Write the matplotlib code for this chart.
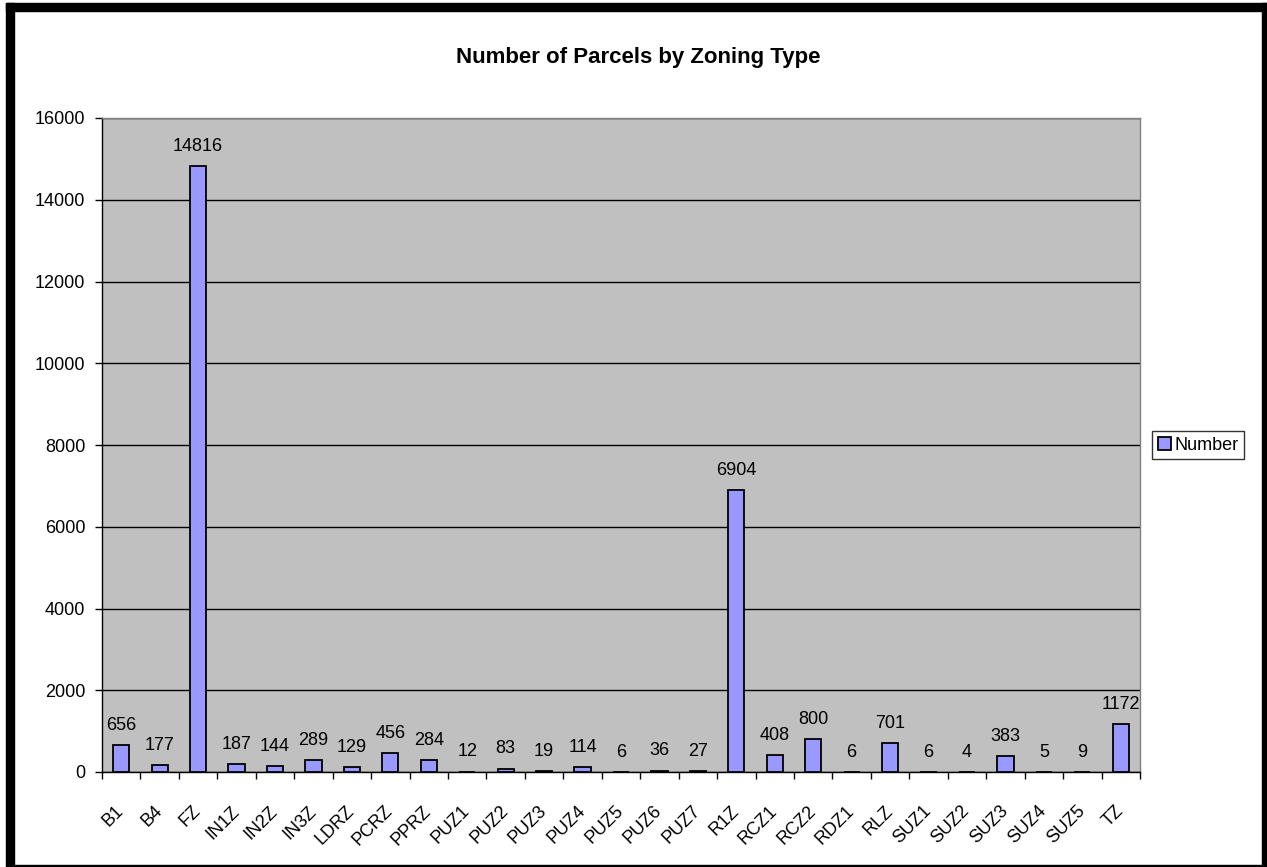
import matplotlib
matplotlib.use('Agg')
import matplotlib.pyplot as plt
import matplotlib.transforms as mtransforms
import numpy as np
from matplotlib.patches import Rectangle

zones = ['B1', 'B4', 'FZ', 'IN1Z', 'IN2Z', 'IN3Z', 'LDRZ', 'PCRZ', 'PPRZ',
         'PUZ1', 'PUZ2', 'PUZ3', 'PUZ4', 'PUZ5', 'PUZ6', 'PUZ7', 'R1Z',
         'RCZ1', 'RCZ2', 'RDZ1', 'RLZ', 'SUZ1', 'SUZ2', 'SUZ3', 'SUZ4',
         'SUZ5', 'TZ']
number = [656, 177, 14816, 187, 144, 289, 129, 456, 284,
          12, 83, 19, 114, 6, 36, 27, 6904,
          408, 800, 6, 701, 6, 4, 383, 5,
          9, 1172]
yticks = [0, 2000, 4000, 6000, 8000, 10000, 12000, 14000, 16000]

plt.rcParams['font.family'] = ['Liberation Sans', 'DejaVu Sans']

fig = plt.figure(figsize=(12.67, 8.67), dpi=100)
fig.patch.set_facecolor('white')
ax = fig.add_axes([102 / 1267, 1 - 772 / 867, (1140 - 102) / 1267, (772 - 118) / 867])
ax.set_facecolor('#C0C0C0')

x = np.arange(len(zones))
bars = ax.bar(x, number, width=0.42, color='#9999FF', edgecolor='black',
              linewidth=1.3, label='Number', zorder=3)
for xi, v in zip(x, number):
    ax.annotate(str(v), (xi, v), xytext=(0, 8), textcoords='offset points',
                ha='center', va='bottom', fontsize=13, zorder=4)

ax.set_xlim(-0.5, len(zones) - 0.5)
ax.set_ylim(0, 16000)
ax.set_yticks(yticks)
ax.tick_params(axis='y', labelsize=13, length=5, width=1, direction='out', pad=7)
ax.yaxis.grid(True, color='black', linewidth=1, zorder=1)

ax.set_xticks(x)
ax.set_xticklabels(zones, rotation=45, ha='right', rotation_mode='anchor', fontsize=13)
ax.tick_params(axis='x', which='major', length=0, pad=22)
shift = mtransforms.ScaledTranslation(-6 / 100, 0, fig.dpi_scale_trans)
for lbl in ax.get_xticklabels():
    lbl.set_transform(lbl.get_transform() + shift)
ax.set_xticks(np.arange(len(zones) + 1) - 0.5, minor=True)
ax.tick_params(axis='x', which='minor', length=5, width=1, direction='out')

for s in ['top', 'right']:
    ax.spines[s].set_color('#808080')
    ax.spines[s].set_linewidth(1)
for s in ['left', 'bottom']:
    ax.spines[s].set_color('black')
    ax.spines[s].set_linewidth(1)

leg = ax.legend(loc='center left', bbox_to_anchor=(1.012, 0.5), fontsize=13,
                frameon=True, fancybox=False, edgecolor='black',
                handlelength=0.7, handleheight=0.7, handletextpad=0.2,
                borderpad=0.3, borderaxespad=0)
leg.get_frame().set_linewidth(1)

fig.text(638 / 1267, 1 - 58 / 867, 'Number of Parcels by Zoning Type',
         ha='center', va='center', fontsize=16, fontweight='bold')

# chart frame (thick shadowed border like the Excel export)
W, H = 1267, 867
fig.patches.append(Rectangle((6 / W, 1 - 11 / H), (W - 6) / W, 8 / H,
                             transform=fig.transFigure, color='black', zorder=10))
fig.patches.append(Rectangle((6 / W, 1 - 866 / H), 8 / W, (866 - 3) / H,
                             transform=fig.transFigure, color='black', zorder=10))
fig.patches.append(Rectangle((1262 / W, 1 - 866 / H), 5 / W, (866 - 3) / H,
                             transform=fig.transFigure, color='black', zorder=10))
fig.patches.append(Rectangle((6 / W, 1 - 866 / H), (W - 6) / W, 1.5 / H,
                             transform=fig.transFigure, color='black', zorder=10))

fig.savefig('out.png', dpi=100, facecolor='white')
